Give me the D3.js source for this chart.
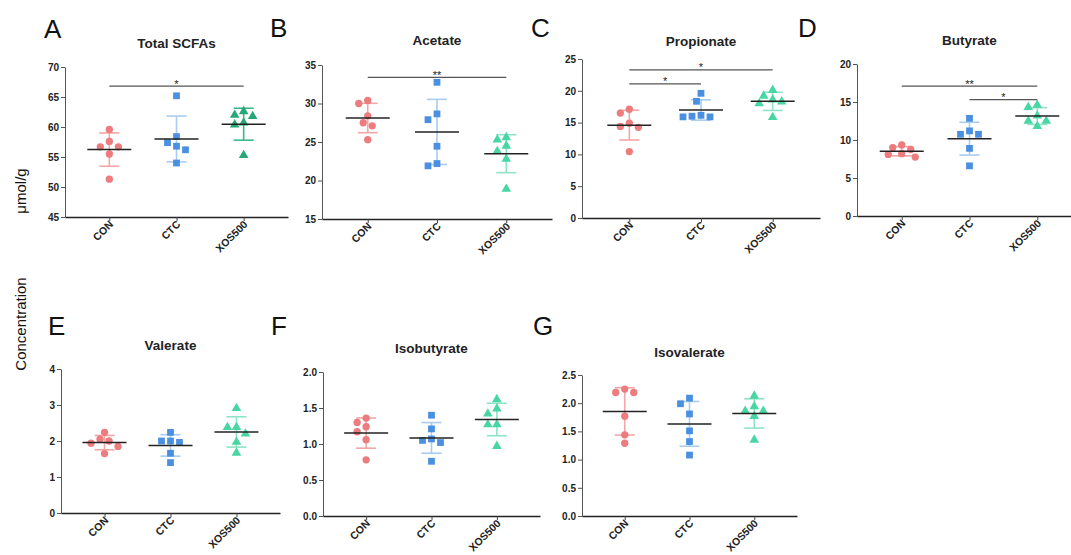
<!DOCTYPE html>
<html>
<head>
<meta charset="utf-8">
<script src="https://cdn.jsdelivr.net/npm/d3@7"></script>
<style>
  html, body { margin: 0; padding: 0; background: #fff; }
  svg { display: block; font-family: 'Liberation Sans', Arial, sans-serif; }
  .tick text { font-weight: bold; fill: #222; }
</style>
</head>
<body>
<svg id="chart" width="1071" height="555"></svg>
<script>
const groups = ['CON', 'CTC', 'XOS500']
const letters = ['A', 'B', 'C', 'D', 'E', 'F', 'G']
const titles = ['Total SCFAs', 'Acetate', 'Propionate', 'Butyrate', 'Valerate', 'Isobutyrate', 'Isovalerate']

// one row per group: CON, CTC, XOS500 (6 animals each)
const totalScfa = [[59.6, 57.6, 56.7, 56.7, 55.5, 51.3], [65.2, 58.4, 57.4, 56.8, 56.2, 54.0], [62.6, 62.0, 61.8, 60.7, 60.4, 55.3]]
const acetate = [[30.4, 30.0, 28.4, 27.5, 27.1, 25.3], [32.75, 28.65, 27.9, 24.45, 22.2, 21.9], [25.6, 25.3, 24.5, 23.8, 22.8, 18.9]]
const propionate = [[17.1, 16.5, 14.9, 14.4, 14.25, 10.45], [19.6, 18.35, 16.15, 16.0, 15.9, 15.9], [20.1, 19.2, 18.6, 18.3, 18.0, 15.85]]
const butyrate = [[9.35, 9.0, 8.75, 8.2, 8.1, 7.75], [12.85, 11.2, 10.75, 10.75, 8.9, 6.6], [14.6, 14.3, 13.2, 12.5, 12.5, 11.8]]
const valerate = [[2.24, 2.05, 2.0, 1.94, 1.85, 1.65], [2.24, 2.0, 2.0, 1.96, 1.66, 1.40], [2.91, 2.38, 2.38, 2.2, 1.97, 1.67]]
const isobutyrate = [[1.36, 1.30, 1.24, 1.17, 1.06, 0.78], [1.40, 1.21, 1.07, 1.05, 1.02, 0.76], [1.62, 1.49, 1.42, 1.27, 1.27, 0.97]]
const isovalerate = [[2.25, 2.19, 2.19, 1.77, 1.44, 1.29], [2.09, 1.99, 1.81, 1.51, 1.32, 1.08], [2.13, 1.94, 1.86, 1.86, 1.77, 1.35]]

// y tick labels per panel
const ticksA = [45, 50, 55, 60, 65, 70]
const ticksB = [15, 20, 25, 30, 35]
const ticksC = [0, 5, 10, 15, 20, 25]
const ticksD = [0, 5, 10, 15, 20]
const ticksE = [0, 1, 2, 3, 4]
const ticksF = [0, 0.5, 1.0, 1.5, 2.0]
const ticksG = [0, 0.5, 1.0, 1.5, 2.0, 2.5]

// significance brackets: [from, to, label, height in data units]
const sigA = [['CON', 'XOS500', '*', 66.8]]
const sigB = [['CON', 'XOS500', '**', 33.4]]
const sigC = [['CON', 'XOS500', '*', 23.3], ['CON', 'CTC', '*', 21.1]]
const sigD = [['CON', 'XOS500', '**', 17.1], ['CTC', 'XOS500', '*', 15.3]]

const panelData = [totalScfa, acetate, propionate, butyrate, valerate, isobutyrate, isovalerate]
const panelTicks = [ticksA, ticksB, ticksC, ticksD, ticksE, ticksF, ticksG]
const panelSig = [sigA, sigB, sigC, sigD, [], [], []]

// layout: y axis x, x axis end, axis bottom / top pixel, letter pos, title baseline
const layout = [
  { x0: 65, x1: 288, yB: 217, yT: 67, lx: 44, ly: 38, ty: 48 },
  { x0: 322, x1: 552, yB: 219, yT: 65, lx: 270, ly: 37, ty: 45 },
  { x0: 582, x1: 820, yB: 218, yT: 59, lx: 531, ly: 37, ty: 46 },
  { x0: 857, x1: 1082, yB: 216, yT: 64, lx: 798, ly: 37, ty: 45 },
  { x0: 61, x1: 280, yB: 513, yT: 369, lx: 48, ly: 335, ty: 350 },
  { x0: 323, x1: 540, yB: 516, yT: 372, lx: 271, ly: 335, ty: 353 },
  { x0: 582, x1: 797, yB: 516, yT: 375, lx: 533, ly: 335, ty: 357 }
]

const dotColor = ['#ec7c7e', '#4a8fe0', '#48d6a2']
const barColor = ['#f2a6a6', '#a8cdef', '#8fe3c6']
const symbols = [d3.symbolCircle, d3.symbolSquare, d3.symbolTriangle]
const symbolSize = [42, 46, 40]

const svg = d3.select('#chart')

// ── Y AXIS LABEL ─────────────────────────────────────────────
svg.append('text')
  .attr('transform', 'translate(26, 191) rotate(-90)')
  .attr('text-anchor', 'middle')
  .attr('font-size', 15)
  .attr('fill', '#111')
  .text('μmol/g')
svg.append('text')
  .attr('transform', 'translate(26, 324) rotate(-90)')
  .attr('text-anchor', 'middle')
  .attr('font-size', 15)
  .attr('fill', '#111')
  .text('Concentration')

// simple beeswarm so that close values sit side by side
function swarm (vals, y) {
  const dia = 8
  const step = 4.5
  const placed = []
  vals.map(v => ({ v, py: y(v) }))
    .sort((a, b) => a.py - b.py)
    .forEach(p => {
      let dx = null
      for (let k = 0; k < 12 && dx === null; k++) {
        const cands = k === 0 ? [0] : [-k * step, k * step]
        for (const c of cands) {
          if (placed.every(q => Math.hypot(q.dx - c, q.py - p.py) >= dia)) { dx = c; break }
        }
      }
      p.dx = dx
      placed.push(p)
    })
  return placed
}

panelData.forEach((data, i) => {
  const L = layout[i]
  const ticks = panelTicks[i]
  const g = svg.append('g')

  const x = d3.scalePoint().domain(groups).range([L.x0, L.x1]).padding(0.66)
  const y = d3.scaleLinear().domain(d3.extent(ticks)).range([L.yB, L.yT])
  const fmt = ticks.some(t => !Number.isInteger(t)) ? d3.format('.1f') : d3.format('d')

  // panel letter + title
  svg.append('text')
    .attr('x', L.lx).attr('y', L.ly)
    .attr('font-size', 26)
    .attr('fill', '#111')
    .text(letters[i])
  svg.append('text')
    .attr('x', x('CTC')).attr('y', L.ty)
    .attr('text-anchor', 'middle')
    .attr('font-size', 13.5)
    .attr('font-weight', 'bold')
    .attr('fill', '#222')
    .text(titles[i])

  // axes
  const yAxis = g.append('g')
    .attr('transform', `translate(${L.x0},0)`)
    .call(d3.axisLeft(y).tickValues(ticks).tickFormat(fmt).tickSize(4).tickSizeOuter(0).tickPadding(2))
  yAxis.selectAll('path, line').attr('stroke', '#555')
  yAxis.selectAll('text').attr('font-size', 10)

  const xAxis = g.append('g')
    .attr('transform', `translate(0,${L.yB})`)
    .call(d3.axisBottom(x).tickSize(4).tickSizeOuter(0))
  xAxis.select('.domain').attr('stroke', '#222').attr('stroke-width', 1.3)
  xAxis.selectAll('line').attr('stroke', '#444')
  xAxis.selectAll('text')
    .attr('font-size', 10.5)
    .attr('text-anchor', 'end')
    .attr('dy', null)
    .attr('y', 0)
    .attr('transform', 'translate(4,8) rotate(-45)')

  // error bars, points, means
  groups.forEach((grp, j) => {
    const vals = data[j]
    const cx = x(grp)
    const m = d3.mean(vals)
    const sd = d3.deviation(vals)
    const bc = (i === 0 && j === 2) ? '#3bb88a' : barColor[j]
    const dc = (i === 0 && j === 2) ? '#27a878' : dotColor[j]

    g.append('line')
      .attr('x1', cx).attr('x2', cx)
      .attr('y1', y(m - sd)).attr('y2', y(m + sd))
      .attr('stroke', bc).attr('stroke-width', 1.6)
    g.selectAll(null)
      .data([m - sd, m + sd])
      .join('line')
      .attr('x1', cx - 10).attr('x2', cx + 10)
      .attr('y1', d => y(d)).attr('y2', d => y(d))
      .attr('stroke', bc).attr('stroke-width', 1.6)

    g.selectAll(null)
      .data(swarm(vals, y))
      .join('path')
      .attr('d', d3.symbol(symbols[j], symbolSize[j]))
      .attr('transform', d => `translate(${cx + d.dx},${d.py})`)
      .attr('fill', dc)

    g.append('line')
      .attr('x1', cx - 22).attr('x2', cx + 22)
      .attr('y1', y(m)).attr('y2', y(m))
      .attr('stroke', '#222').attr('stroke-width', 1.5)
  })

  // significance brackets
  panelSig[i].forEach(([a, b, label, h]) => {
    g.append('line')
      .attr('x1', x(a)).attr('x2', x(b))
      .attr('y1', y(h)).attr('y2', y(h))
      .attr('stroke', '#555').attr('stroke-width', 1.2)
    g.append('text')
      .attr('x', (x(a) + x(b)) / 2).attr('y', y(h) + 1.5)
      .attr('text-anchor', 'middle')
      .attr('font-size', 11)
      .attr('fill', '#222')
      .text(label)
  })
})
</script>
</body>
</html>
